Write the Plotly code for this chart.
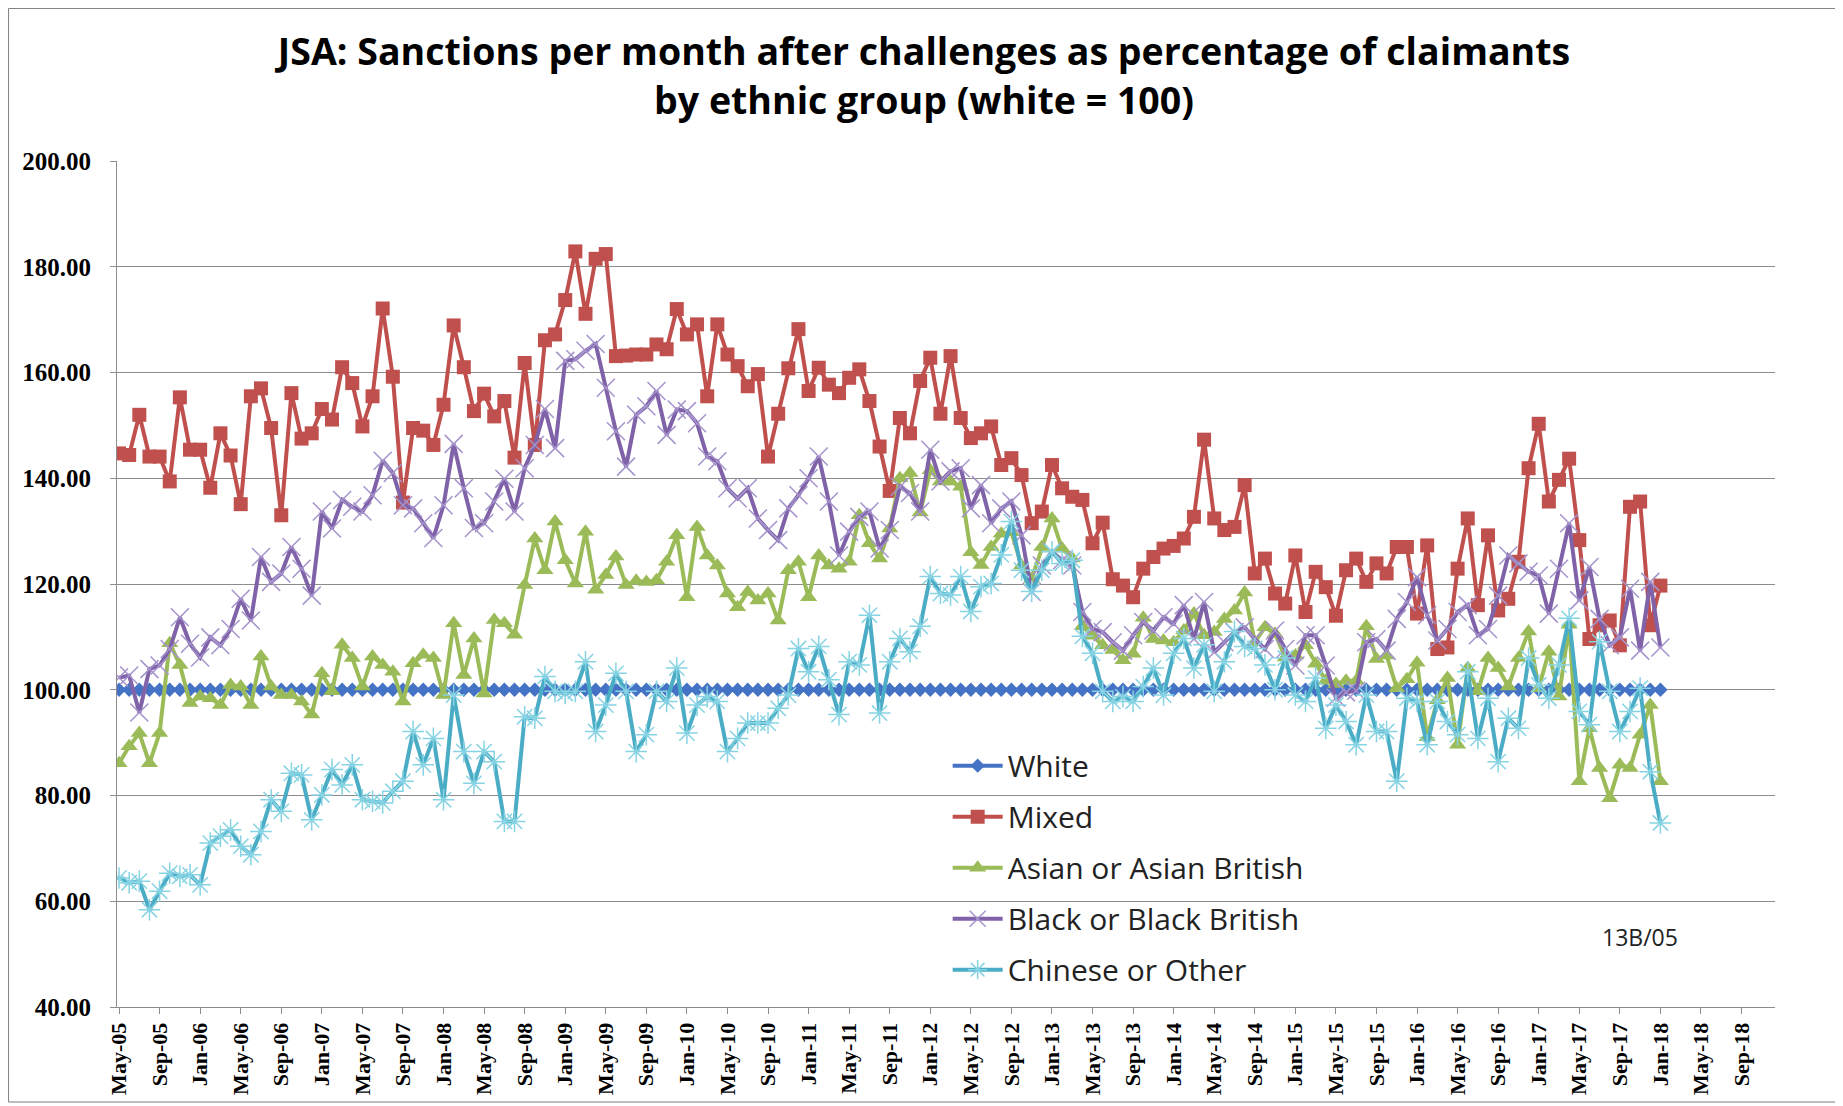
import plotly.graph_objects as go

tick_labels = ["May-05", "Sep-05", "Jan-06", "May-06", "Sep-06", "Jan-07", "May-07", "Sep-07",
               "Jan-08", "May-08", "Sep-08", "Jan-09", "May-09", "Sep-09", "Jan-10", "May-10",
               "Sep-10", "Jan-11", "May-11", "Sep-11", "Jan-12", "May-12", "Sep-12", "Jan-13",
               "May-13", "Sep-13", "Jan-14", "May-14", "Sep-14", "Jan-15", "May-15", "Sep-15",
               "Jan-16", "May-16", "Sep-16", "Jan-17", "May-17", "Sep-17", "Jan-18", "May-18",
               "Sep-18"]

mixed = [144.7, 144.4, 152.0, 144.1, 144.1, 139.4, 155.3, 145.4, 145.4, 138.2,
         148.5, 144.3, 135.1, 155.5, 157.0, 149.5, 133.0, 156.1, 147.5, 148.5,
         153.1, 151.1, 161.0, 158.0, 149.8, 155.5, 172.1, 159.2, 135.4, 149.5,
         149.0, 146.3, 153.9, 168.9, 161.0, 152.7, 156.0, 151.7, 154.6, 143.9,
         161.8, 146.3, 166.1, 167.2, 173.7, 182.9, 171.1, 181.5, 182.4, 163.1,
         163.2, 163.4, 163.4, 165.3, 164.4, 172.0, 167.2, 169.1, 155.5, 169.1,
         163.4, 161.2, 157.4, 159.7, 144.1, 152.2, 160.8, 168.2, 156.5, 160.9,
         157.7, 156.1, 159.0, 160.6, 154.6, 146.0, 137.6, 151.4, 148.5, 158.4,
         162.8, 152.2, 163.1, 151.4, 147.6, 148.5, 149.8, 142.5, 143.8, 140.6,
         131.5, 133.7, 142.5, 138.1, 136.5, 135.9, 127.7, 131.6, 120.9, 119.7,
         117.5, 122.9, 125.1, 126.7, 127.2, 128.6, 132.7, 147.3, 132.4, 130.2,
         130.8, 138.7, 122.0, 124.8, 118.2, 116.3, 125.4, 114.7, 122.3, 119.4,
         114.0, 122.6, 124.8, 120.4, 123.9, 122.0, 127.0, 127.0, 114.4, 127.3,
         107.7, 108.0, 122.9, 132.4, 116.0, 129.2, 115.0, 117.2, 124.2, 141.9,
         150.3, 135.6, 139.7, 143.7, 128.3, 109.6, 112.2, 113.1, 108.4, 134.6,
         135.6, 112.2, 119.7]

black = [102.3, 102.7, 95.7, 103.9, 104.6, 107.7, 113.7, 108.7, 106.1, 109.9,
         108.4, 111.5, 117.2, 113.1, 125.1, 120.4, 122.0, 127.0, 122.9, 117.8,
         133.7, 130.5, 135.9, 134.6, 133.7, 136.8, 143.3, 141.0, 134.9, 134.3,
         131.5, 128.7, 134.9, 146.5, 138.1, 130.6, 131.5, 135.6, 139.9, 133.7,
         141.9, 146.3, 153.1, 145.7, 162.2, 162.5, 164.1, 165.4, 157.1, 148.9,
         142.2, 152.0, 153.6, 156.5, 148.2, 153.0, 152.7, 150.4, 144.1, 143.2,
         138.1, 136.2, 138.1, 132.4, 130.2, 128.3, 134.3, 136.8, 140.0, 144.1,
         135.6, 125.4, 129.9, 132.7, 133.7, 126.7, 130.2, 138.4, 137.2, 133.7,
         145.4, 139.4, 141.3, 141.9, 134.3, 138.7, 131.5, 134.3, 135.6, 129.2,
         118.5, 123.5, 126.1, 124.5, 123.5, 114.7, 111.5, 110.9, 109.0, 107.4,
         110.3, 112.8, 111.2, 113.7, 112.5, 116.0, 109.6, 116.6, 107.1, 109.0,
         110.9, 111.8, 109.6, 107.7, 111.2, 107.7, 104.6, 110.3, 110.3, 104.6,
         98.5, 99.5, 99.8, 109.0, 109.6, 107.4, 113.4, 116.6, 121.3, 114.1,
         109.3, 111.5, 114.7, 116.0, 110.3, 111.5, 117.8, 125.4, 123.9, 122.3,
         121.6, 114.4, 122.9, 131.5, 116.9, 123.2, 113.4, 108.4, 109.9, 119.1,
         107.4, 120.4, 108.0]

asian = [86.1, 89.3, 91.8, 86.1, 91.8, 108.8, 104.7, 97.5, 98.7, 98.4,
         97.1, 100.9, 100.6, 97.1, 106.3, 100.6, 99.0, 99.0, 97.8, 95.3,
         103.1, 99.7, 108.5, 106.0, 100.6, 106.3, 104.7, 103.4, 97.8, 105.0,
         106.6, 106.0, 99.0, 112.6, 102.8, 109.7, 99.3, 113.2, 112.6, 110.4,
         119.8, 128.6, 122.6, 131.8, 124.5, 120.1, 129.9, 118.9, 121.7, 125.2,
         119.8, 120.6, 120.4, 120.7, 124.2, 129.2, 117.5, 130.8, 125.4, 123.5,
         118.2, 115.6, 118.5, 116.9, 118.2, 113.1, 122.6, 124.2, 117.5, 125.4,
         123.5, 122.9, 124.2, 133.0, 127.7, 124.8, 130.5, 140.0, 141.0, 133.5,
         141.5, 139.4, 139.4, 138.4, 126.0, 123.6, 127.0, 129.5, 129.8, 123.5,
         121.0, 127.0, 132.4, 126.7, 124.8, 112.0, 110.2, 108.4, 107.5, 105.6,
         106.8, 113.6, 109.6, 109.3, 109.0, 111.2, 114.4, 110.3, 110.9, 113.4,
         115.0, 118.4, 109.0, 111.8, 110.6, 106.1, 106.5, 108.4, 104.9, 101.7,
         101.1, 101.7, 101.7, 112.0, 105.8, 106.5, 100.3, 102.0, 105.1, 91.0,
         98.0, 102.2, 89.6, 104.1, 99.7, 106.0, 104.1, 100.6, 106.0, 111.0,
         100.3, 107.2, 98.7, 112.3, 82.7, 92.7, 85.2, 79.5, 85.8, 85.2,
         91.5, 97.1, 82.7]

chinese = [64.4, 63.5, 63.8, 58.4, 61.9, 65.3, 64.7, 65.0, 63.1, 71.0,
           72.3, 73.5, 70.4, 68.8, 73.2, 79.2, 77.0, 84.2, 83.9, 75.4,
           80.1, 84.9, 82.0, 85.8, 79.2, 78.9, 78.6, 80.8, 82.7, 92.1,
           85.8, 90.8, 79.2, 99.0, 88.3, 82.3, 88.3, 86.4, 75.1, 75.1,
           94.9, 94.6, 102.5, 99.7, 99.3, 99.7, 105.3, 92.1, 97.1, 103.1,
           99.7, 88.3, 91.5, 99.7, 97.8, 104.1, 91.8, 97.1, 98.7, 97.8,
           88.3, 90.8, 93.7, 93.7, 93.7, 96.5, 99.0, 107.8, 103.4, 108.2,
           101.9, 95.3, 105.3, 104.7, 114.1, 95.6, 105.3, 109.7, 107.2, 112.0,
           121.4, 118.2, 117.9, 121.4, 114.8, 119.5, 120.1, 125.5, 131.8, 122.6,
           118.6, 122.6, 126.1, 123.9, 124.5, 110.1, 106.9, 99.7, 97.8, 98.7,
           97.8, 100.6, 104.1, 99.0, 106.9, 109.7, 104.1, 108.5, 99.7, 105.3,
           111.0, 108.2, 107.8, 104.7, 100.0, 106.0, 99.0, 97.8, 102.2, 92.7,
           97.1, 94.0, 89.6, 99.0, 92.1, 92.1, 82.7, 98.4, 97.8, 89.6,
           97.8, 94.0, 91.5, 103.4, 90.8, 98.4, 86.4, 94.6, 92.7, 106.0,
           100.9, 98.4, 104.7, 113.5, 95.9, 93.4, 109.1, 99.7, 92.1, 95.9,
           100.3, 84.5, 74.8]

white = [100.0] * len(mixed)

months = list(range(len(mixed)))

series = [
    ("White", white, dict(color="#4472C4", width=4), dict(symbol="diamond", size=11, color="#4472C4")),
    ("Mixed", mixed, dict(color="#C0504D", width=4), dict(symbol="square", size=14, color="#C0504D")),
    ("Asian or Asian British", asian, dict(color="#9BBB59", width=4),
     dict(symbol="triangle-up", size=15, color="#9BBB59")),
    ("Black or Black British", black, dict(color="#7F62A8", width=4),
     dict(symbol="x-thin-open", size=18, color="#A593CC", line=dict(color="#A593CC", width=1.5))),
    ("Chinese or Other", chinese, dict(color="#4BACC6", width=4),
     dict(symbol="asterisk-open", size=18, color="#86D3E3", line=dict(color="#86D3E3", width=1.5))),
]

fig = go.Figure()
for i, (name, vals, ln, mk) in enumerate(series):
    fig.add_trace(go.Scatter(x=months, y=vals, name=name, mode="lines+markers",
                             line=ln, marker=mk, legendgroup=f"g{i}"))

grid = "#8C8C8C"
fig.update_layout(
    width=1835, height=1098,
    margin=dict(l=109, r=68, t=153, b=99),
    paper_bgcolor="white", plot_bgcolor="white",
    title=dict(text="JSA: Sanctions per month after challenges as percentage of claimants<br>by ethnic group (white = 100)",
               x=0.4992, xref="container", xanchor="center", y=0.948, yref="container", yanchor="middle",
               font=dict(family="Open Sans", size=37.5, color="#000000", weight="bold")),
    legend=dict(x=0.501, y=0.316, xanchor="left", yanchor="top", bgcolor="rgba(0,0,0,0)",
                font=dict(family="Open Sans", size=30, color="#222222"),
                traceorder="grouped", tracegroupgap=9, itemwidth=50),
    showlegend=True,
)
fig.update_xaxes(range=[-0.2, 163.3], tickmode="array", tickvals=list(range(0, 161, 4)),
                 ticktext=tick_labels, tickangle=-90, showgrid=False, zeroline=False,
                 showline=True, linecolor=grid, linewidth=1, ticks="outside", ticklen=6,
                 tickcolor=grid, tickfont=dict(family="Liberation Serif", size=22, color="#000000", weight="bold"))
fig.update_yaxes(range=[40, 200], dtick=20, tick0=40, tickformat=".2f", showgrid=True, gridcolor=grid,
                 gridwidth=1, zeroline=False, showline=True, linecolor=grid, linewidth=1,
                 ticks="outside", ticklen=6, tickcolor=grid, ticklabelstandoff=14,
                 tickfont=dict(family="Liberation Serif", size=25, color="#000000", weight="bold"))

fig.add_annotation(text="13B/05", x=0.9186, y=0.0827, xref="paper", yref="paper", showarrow=False,
                   xanchor="center", yanchor="middle", font=dict(family="Open Sans", size=23, color="#222222"))
fig.add_shape(type="rect", xref="paper", yref="paper", x0=-0.0654, x1=1.0368, y0=-0.1123, y1=1.1803,
              line=dict(color="#7F7F7F", width=1), fillcolor="rgba(0,0,0,0)", layer="below")

fig.write_html("out.html")
